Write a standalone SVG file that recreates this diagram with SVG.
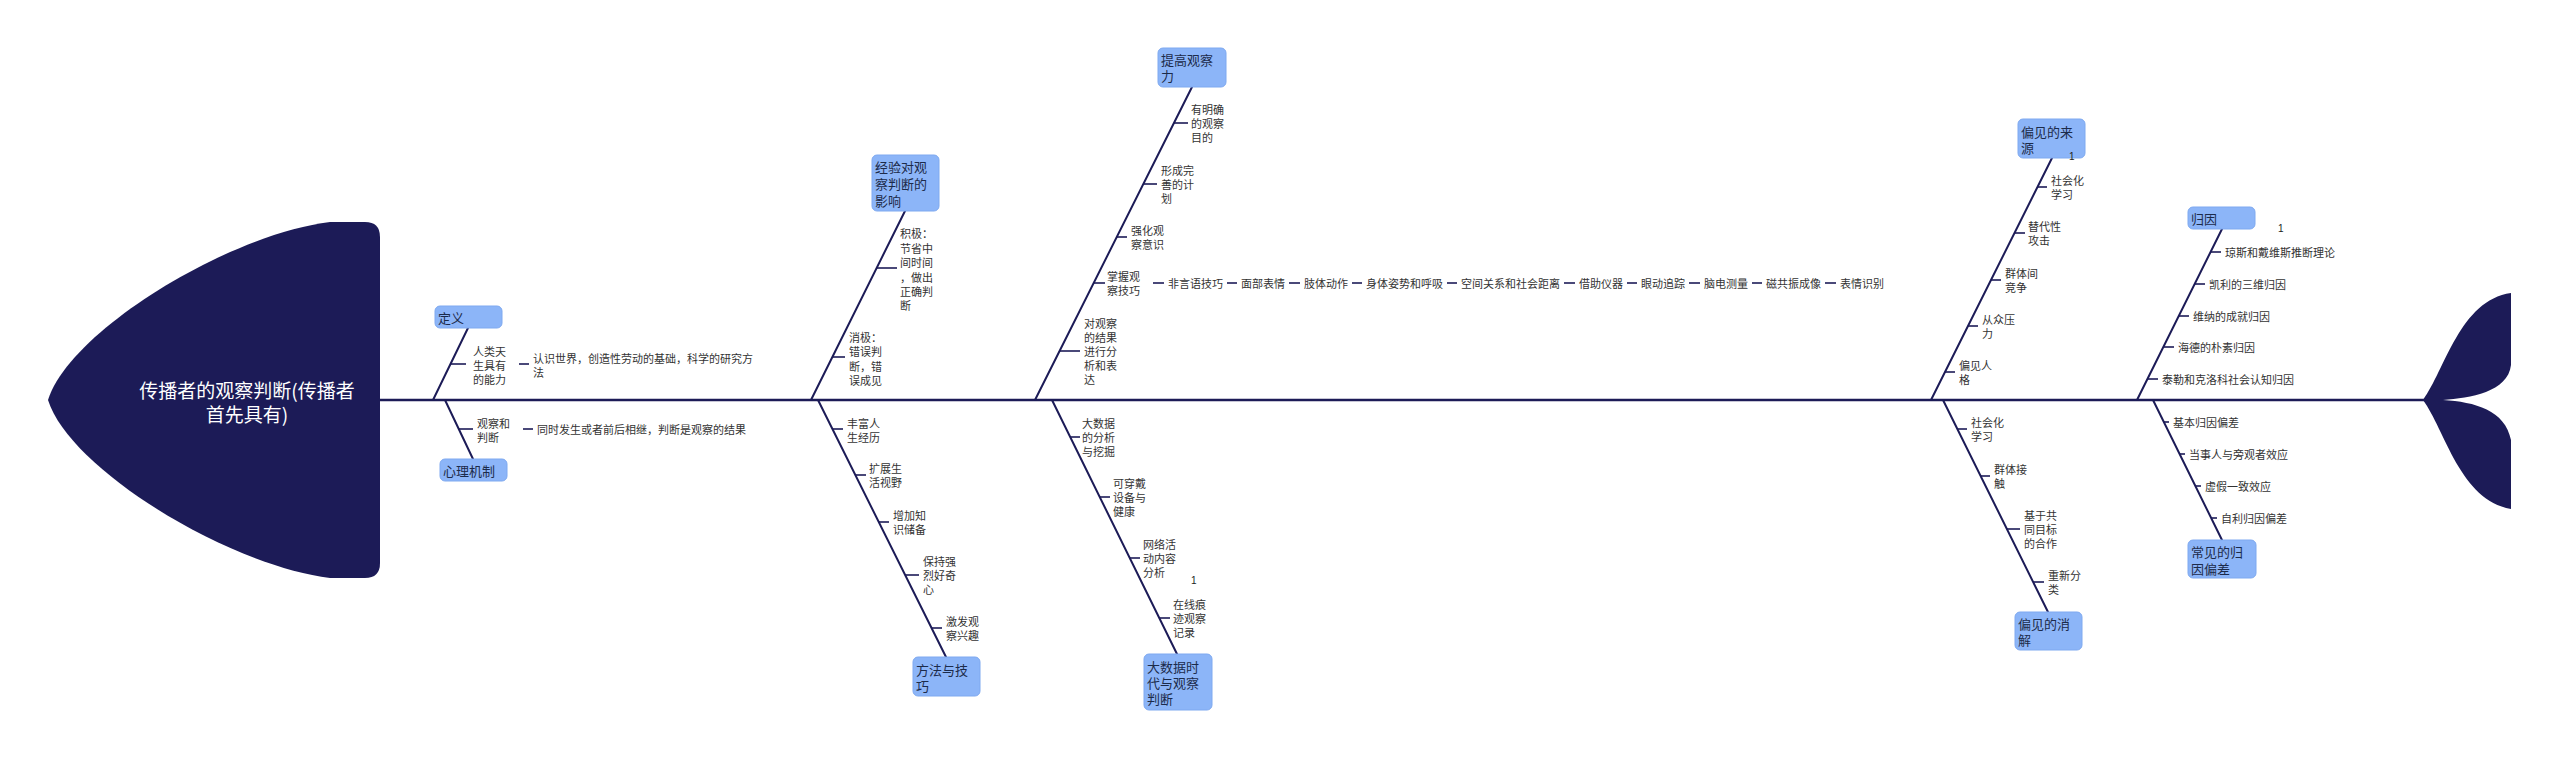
<svg xmlns="http://www.w3.org/2000/svg" width="2560" height="758" viewBox="0 0 2560 758">
<style>
.bg{fill:#ffffff}
.fish{fill:#1c1b57}
.spine{stroke:#1c1b57;stroke-width:2.5;fill:none}
.br{stroke:#1c1b57;stroke-width:2;fill:none;stroke-linecap:round}
.tk{stroke:#1c1b57;stroke-width:1.6;fill:none}
.box{fill:#8cb5f8;stroke:#7ea9f0;stroke-width:1}
.bt{font-family:"Noto Sans CJK SC","Noto Sans",sans-serif;font-size:13px;fill:#1c2b4a;dominant-baseline:central}
.lt{font-family:"Noto Sans CJK SC","Noto Sans",sans-serif;font-size:11px;fill:#333333;dominant-baseline:central}
.ht{font-family:"Noto Sans CJK SC","Noto Sans",sans-serif;font-size:19px;fill:#ffffff;dominant-baseline:central;text-anchor:middle}
.num{font-family:"Liberation Sans",sans-serif;font-size:10px;fill:#222;dominant-baseline:central}
</style>
<rect class="bg" x="0" y="0" width="2560" height="758"/>

<g id="head">
<path class="fish" d="M 365 222 Q 380 222 380 237 L 380 563 Q 380 578 365 578 L 330 578 C 230 566 70 470 48 400 C 70 330 230 234 330 222 Z"/>
<text class="ht"><tspan x="247" y="389">传播者的观察判断(传播者</tspan><tspan x="247" y="413">首先具有)</tspan></text>
</g>
<g id="tail">
<path class="fish" d="M 2423 400 C 2445 370 2460 300 2511 293 L 2511 365 C 2508 392 2470 398 2443 400 C 2475 402 2505 410 2511 440 L 2511 509 C 2460 500 2445 430 2423 400 Z"/>
</g>

<g id="connectors">
<line class="spine" x1="380" y1="400" x2="2426" y2="400"/>
<line class="br" x1="433" y1="400" x2="468" y2="328"/>
<line class="br" x1="445" y1="400" x2="473" y2="459"/>
<line class="br" x1="811" y1="400" x2="905" y2="211"/>
<line class="br" x1="818" y1="400" x2="946" y2="657"/>
<line class="br" x1="1035" y1="400" x2="1192" y2="87"/>
<line class="br" x1="1052" y1="400" x2="1177" y2="654"/>
<line class="br" x1="1931" y1="400" x2="2052" y2="158"/>
<line class="br" x1="1943" y1="400" x2="2048" y2="612"/>
<line class="br" x1="2137" y1="400" x2="2222" y2="229"/>
<line class="br" x1="2153" y1="400" x2="2222" y2="540"/>
<!-- ticks -->
<line class="tk" x1="450.5" y1="364" x2="466" y2="364"/>
<line class="tk" x1="519" y1="364" x2="529" y2="364"/>
<line class="tk" x1="458.8" y1="429" x2="473" y2="429"/>
<line class="tk" x1="523" y1="429" x2="533" y2="429"/>
<line class="tk" x1="876.6" y1="268" x2="897" y2="268"/>
<line class="tk" x1="832.4" y1="357" x2="845" y2="357"/>
<line class="tk" x1="832.4" y1="429" x2="843" y2="429"/>
<line class="tk" x1="855.4" y1="475" x2="866" y2="475"/>
<line class="tk" x1="878.8" y1="522" x2="889" y2="522"/>
<line class="tk" x1="905.2" y1="575" x2="919" y2="575"/>
<line class="tk" x1="931.6" y1="628" x2="942" y2="628"/>
<line class="tk" x1="1174" y1="123" x2="1188" y2="123"/>
<line class="tk" x1="1143.3" y1="184" x2="1157" y2="184"/>
<line class="tk" x1="1116.8" y1="237" x2="1127" y2="237"/>
<line class="tk" x1="1093.7" y1="283" x2="1105" y2="283"/>
<line class="tk" x1="1059.6" y1="351" x2="1080" y2="351"/>
<line class="tk" x1="1153" y1="283" x2="1164" y2="283"/>
<line class="tk" x1="1227" y1="283" x2="1237" y2="283"/>
<line class="tk" x1="1289" y1="283" x2="1300" y2="283"/>
<line class="tk" x1="1352" y1="283" x2="1362" y2="283"/>
<line class="tk" x1="1447" y1="283" x2="1457" y2="283"/>
<line class="tk" x1="1564" y1="283" x2="1575" y2="283"/>
<line class="tk" x1="1627" y1="283" x2="1637" y2="283"/>
<line class="tk" x1="1689" y1="283" x2="1700" y2="283"/>
<line class="tk" x1="1752" y1="283" x2="1762" y2="283"/>
<line class="tk" x1="1825" y1="283" x2="1836" y2="283"/>
<line class="tk" x1="1070.2" y1="437" x2="1080" y2="437"/>
<line class="tk" x1="1099.7" y1="497" x2="1110" y2="497"/>
<line class="tk" x1="1129.8" y1="558" x2="1140" y2="558"/>
<line class="tk" x1="1159.3" y1="618" x2="1170" y2="618"/>
<line class="tk" x1="2037.5" y1="187" x2="2047" y2="187"/>
<line class="tk" x1="2014.5" y1="233" x2="2025" y2="233"/>
<line class="tk" x1="1991" y1="280" x2="2001" y2="280"/>
<line class="tk" x1="1968" y1="326" x2="1978" y2="326"/>
<line class="tk" x1="1945" y1="372" x2="1955" y2="372"/>
<line class="tk" x1="1957.4" y1="429" x2="1967" y2="429"/>
<line class="tk" x1="1980.6" y1="476" x2="1990" y2="476"/>
<line class="tk" x1="2006.9" y1="529" x2="2020" y2="529"/>
<line class="tk" x1="2033" y1="582" x2="2044" y2="582"/>
<line class="tk" x1="2210.6" y1="252" x2="2221" y2="252"/>
<line class="tk" x1="2194.7" y1="284" x2="2205" y2="284"/>
<line class="tk" x1="2178.7" y1="316" x2="2189" y2="316"/>
<line class="tk" x1="2163.3" y1="347" x2="2174" y2="347"/>
<line class="tk" x1="2147.4" y1="379" x2="2158" y2="379"/>
<line class="tk" x1="2163.8" y1="422" x2="2169" y2="422"/>
<line class="tk" x1="2179.6" y1="454" x2="2185" y2="454"/>
<line class="tk" x1="2195.4" y1="486" x2="2201" y2="486"/>
<line class="tk" x1="2211.2" y1="518" x2="2217" y2="518"/>
</g>

<!-- category boxes -->
<g id="n-dingyi"><rect class="box" x="435" y="306" width="67" height="22" rx="5"/><text class="bt" x="438" y="317">定义</text></g>
<g id="n-xinli"><rect class="box" x="440" y="459" width="67" height="22" rx="5"/><text class="bt" x="443" y="470">心理机制</text></g>
<g id="n-jingyan"><rect class="box" x="872" y="155" width="67" height="56" rx="5"/><text class="bt"><tspan x="875" y="166">经验对观</tspan><tspan x="875" y="183">察判断的</tspan><tspan x="875" y="200">影响</tspan></text></g>
<g id="n-fangfa"><rect class="box" x="913" y="657" width="67" height="39" rx="5"/><text class="bt"><tspan x="916" y="669">方法与技</tspan><tspan x="916" y="685">巧</tspan></text></g>
<g id="n-tigao"><rect class="box" x="1158" y="48" width="68" height="39" rx="5"/><text class="bt"><tspan x="1161" y="59">提高观察</tspan><tspan x="1161" y="75">力</tspan></text></g>
<g id="n-dashuju"><rect class="box" x="1144" y="654" width="68" height="56" rx="5"/><text class="bt"><tspan x="1147" y="666">大数据时</tspan><tspan x="1147" y="682">代与观察</tspan><tspan x="1147" y="698">判断</tspan></text></g>
<g id="n-laiyuan"><rect class="box" x="2018" y="119" width="67" height="39" rx="5"/><text class="bt"><tspan x="2021" y="131">偏见的来</tspan><tspan x="2021" y="147">源</tspan></text><text class="num" x="2069" y="156">1</text></g>
<g id="n-xiaojie"><rect class="box" x="2015" y="612" width="67" height="38" rx="5"/><text class="bt"><tspan x="2018" y="623">偏见的消</tspan><tspan x="2018" y="639">解</tspan></text></g>
<g id="n-guiyin"><rect class="box" x="2188" y="207" width="67" height="22" rx="5"/><text class="bt" x="2191" y="218">归因</text><text class="num" x="2278" y="228">1</text></g>
<g id="n-piancha"><rect class="box" x="2188" y="540" width="68" height="38" rx="5"/><text class="bt"><tspan x="2191" y="551">常见的归</tspan><tspan x="2191" y="568">因偏差</tspan></text></g>

<!-- leaves: 定义 / 心理机制 -->
<g id="l-nengli"><text class="lt"><tspan x="473" y="351">人类天</tspan><tspan x="473" y="365">生具有</tspan><tspan x="473" y="379">的能力</tspan></text></g>
<g id="l-renshi"><text class="lt"><tspan x="533" y="358">认识世界，创造性劳动的基础，科学的研究方</tspan><tspan x="533" y="372">法</tspan></text></g>
<g id="l-guancha"><text class="lt"><tspan x="477" y="423">观察和</tspan><tspan x="477" y="437">判断</tspan></text></g>
<g id="l-tongshi"><text class="lt" x="537" y="429">同时发生或者前后相继，判断是观察的结果</text></g>

<!-- 经验 -->
<g id="l-jiji"><text class="lt"><tspan x="900" y="233">积极：</tspan><tspan x="900" y="248">节省中</tspan><tspan x="900" y="262">间时间</tspan><tspan x="900" y="277">，做出</tspan><tspan x="900" y="291">正确判</tspan><tspan x="900" y="305">断</tspan></text></g>
<g id="l-xiaoji"><text class="lt"><tspan x="849" y="337">消极：</tspan><tspan x="849" y="351">错误判</tspan><tspan x="849" y="366">断，错</tspan><tspan x="849" y="380">误成见</tspan></text></g>

<!-- 方法与技巧 -->
<g id="l-fengfu"><text class="lt"><tspan x="847" y="423">丰富人</tspan><tspan x="847" y="437">生经历</tspan></text></g>
<g id="l-kuozhan"><text class="lt"><tspan x="869" y="468">扩展生</tspan><tspan x="869" y="482">活视野</tspan></text></g>
<g id="l-zengjia"><text class="lt"><tspan x="893" y="515">增加知</tspan><tspan x="893" y="529">识储备</tspan></text></g>
<g id="l-baochi"><text class="lt"><tspan x="923" y="561">保持强</tspan><tspan x="923" y="575">烈好奇</tspan><tspan x="923" y="589">心</tspan></text></g>
<g id="l-jifa"><text class="lt"><tspan x="946" y="621">激发观</tspan><tspan x="946" y="635">察兴趣</tspan></text></g>

<!-- 提高观察力 -->
<g id="l-mingque"><text class="lt"><tspan x="1191" y="109">有明确</tspan><tspan x="1191" y="123">的观察</tspan><tspan x="1191" y="137">目的</tspan></text></g>
<g id="l-xingcheng"><text class="lt"><tspan x="1161" y="170">形成完</tspan><tspan x="1161" y="184">善的计</tspan><tspan x="1161" y="198">划</tspan></text></g>
<g id="l-qianghua"><text class="lt"><tspan x="1131" y="230">强化观</tspan><tspan x="1131" y="244">察意识</tspan></text></g>
<g id="l-zhangwo"><text class="lt"><tspan x="1107" y="276">掌握观</tspan><tspan x="1107" y="290">察技巧</tspan></text></g>
<g id="l-duiguancha"><text class="lt"><tspan x="1084" y="323">对观察</tspan><tspan x="1084" y="337">的结果</tspan><tspan x="1084" y="351">进行分</tspan><tspan x="1084" y="365">析和表</tspan><tspan x="1084" y="379">达</tspan></text></g>
<g id="l-chain">
<text class="lt" x="1168" y="283">非言语技巧</text>
<text class="lt" x="1241" y="283">面部表情</text>
<text class="lt" x="1304" y="283">肢体动作</text>
<text class="lt" x="1366" y="283">身体姿势和呼吸</text>
<text class="lt" x="1461" y="283">空间关系和社会距离</text>
<text class="lt" x="1579" y="283">借助仪器</text>
<text class="lt" x="1641" y="283">眼动追踪</text>
<text class="lt" x="1704" y="283">脑电测量</text>
<text class="lt" x="1766" y="283">磁共振成像</text>
<text class="lt" x="1840" y="283">表情识别</text>
</g>

<!-- 大数据 -->
<g id="l-fenxi"><text class="lt"><tspan x="1082" y="423">大数据</tspan><tspan x="1082" y="437">的分析</tspan><tspan x="1082" y="451">与挖掘</tspan></text></g>
<g id="l-chuandai"><text class="lt"><tspan x="1113" y="483">可穿戴</tspan><tspan x="1113" y="497">设备与</tspan><tspan x="1113" y="511">健康</tspan></text></g>
<g id="l-wangluo"><text class="lt"><tspan x="1143" y="544">网络活</tspan><tspan x="1143" y="558">动内容</tspan><tspan x="1143" y="572">分析</tspan></text><text class="num" x="1191" y="580">1</text></g>
<g id="l-henji"><text class="lt"><tspan x="1173" y="604">在线痕</tspan><tspan x="1173" y="618">迹观察</tspan><tspan x="1173" y="632">记录</tspan></text></g>

<!-- 偏见的来源 -->
<g id="l-shehuihua1"><text class="lt"><tspan x="2051" y="180">社会化</tspan><tspan x="2051" y="194">学习</tspan></text></g>
<g id="l-tidai"><text class="lt"><tspan x="2028" y="226">替代性</tspan><tspan x="2028" y="240">攻击</tspan></text></g>
<g id="l-qunti"><text class="lt"><tspan x="2005" y="273">群体间</tspan><tspan x="2005" y="287">竞争</tspan></text></g>
<g id="l-congzhong"><text class="lt"><tspan x="1982" y="319">从众压</tspan><tspan x="1982" y="333">力</tspan></text></g>
<g id="l-renge"><text class="lt"><tspan x="1959" y="365">偏见人</tspan><tspan x="1959" y="379">格</tspan></text></g>

<!-- 偏见的消解 -->
<g id="l-shehuihua2"><text class="lt"><tspan x="1971" y="422">社会化</tspan><tspan x="1971" y="436">学习</tspan></text></g>
<g id="l-jiechu"><text class="lt"><tspan x="1994" y="469">群体接</tspan><tspan x="1994" y="483">触</tspan></text></g>
<g id="l-hezuo"><text class="lt"><tspan x="2024" y="515">基于共</tspan><tspan x="2024" y="529">同目标</tspan><tspan x="2024" y="543">的合作</tspan></text></g>
<g id="l-chongxin"><text class="lt"><tspan x="2048" y="575">重新分</tspan><tspan x="2048" y="589">类</tspan></text></g>

<!-- 归因 -->
<g id="l-qiongsi"><text class="lt" x="2225" y="252">琼斯和戴维斯推断理论</text></g>
<g id="l-kaili"><text class="lt" x="2209" y="284">凯利的三维归因</text></g>
<g id="l-weina"><text class="lt" x="2193" y="316">维纳的成就归因</text></g>
<g id="l-haide"><text class="lt" x="2178" y="347">海德的朴素归因</text></g>
<g id="l-taile"><text class="lt" x="2162" y="379">泰勒和克洛科社会认知归因</text></g>

<!-- 常见的归因偏差 -->
<g id="l-jiben"><text class="lt" x="2173" y="422">基本归因偏差</text></g>
<g id="l-dangshiren"><text class="lt" x="2189" y="454">当事人与旁观者效应</text></g>
<g id="l-xujia"><text class="lt" x="2205" y="486">虚假一致效应</text></g>
<g id="l-zili"><text class="lt" x="2221" y="518">自利归因偏差</text></g>
</svg>
